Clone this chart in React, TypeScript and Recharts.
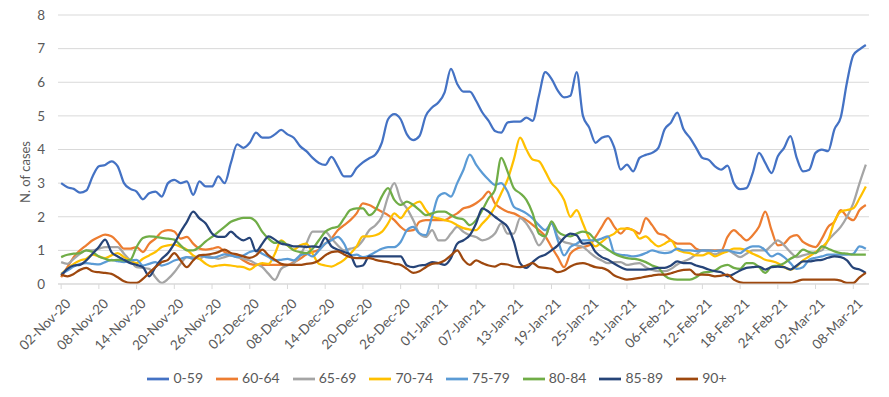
import React from "react";
import {
  LineChart,
  Line,
  XAxis,
  YAxis,
  CartesianGrid,
  Legend
} from "recharts";

// daily values, 02-Nov-20 .. 10-Mar-21
const age0059 = [
  3.0, 2.88, 2.83, 2.72, 2.78, 3.2, 3.5, 3.54, 3.65, 3.5,
  3.0, 2.83, 2.75, 2.52, 2.7, 2.75, 2.6, 3.0, 3.1, 3.0,
  3.05, 2.65, 3.05, 2.9, 2.9, 3.2, 3.0, 3.6, 4.15, 4.05,
  4.2, 4.5, 4.35, 4.35, 4.45, 4.58, 4.45, 4.35, 4.1, 3.95,
  3.75, 3.6, 3.54, 3.78, 3.5, 3.2, 3.2, 3.45, 3.62, 3.74,
  3.85, 4.2, 4.9, 5.05, 4.9, 4.45, 4.28, 4.4, 5.0, 5.25,
  5.4, 5.7, 6.4, 5.95, 5.72, 5.72, 5.45, 5.1, 4.85, 4.55,
  4.5, 4.8, 4.83, 4.83, 4.95, 4.85, 5.6, 6.3, 6.1, 5.75,
  5.55, 5.6, 6.3, 5.0, 4.65, 4.2, 4.35, 4.4, 4.05, 3.4,
  3.55, 3.35, 3.75, 3.84, 3.9, 4.05, 4.6, 4.8, 5.1, 4.6,
  4.35, 4.05, 3.75, 3.69, 3.5, 3.4, 3.52, 3.0, 2.82, 2.85,
  3.3, 3.9, 3.6, 3.3, 3.8, 4.05, 4.4, 3.75, 3.35, 3.4,
  3.9, 4.0, 3.95, 4.6, 4.95, 6.0, 6.8, 6.98, 7.11
];
const age6064 = [
  0.2, 0.5, 0.8, 1.0, 1.15, 1.3, 1.4, 1.47, 1.42, 1.25,
  1.05, 1.05, 1.1, 0.95, 1.2, 1.35, 1.55, 1.6, 1.56, 1.35,
  1.4, 1.2, 1.05, 1.02, 1.05, 1.1, 0.95, 0.85, 0.82, 0.7,
  0.6, 0.57, 0.57, 0.57, 0.57, 0.57, 0.57, 0.65, 0.75, 0.88,
  0.95, 1.02, 1.2, 1.35, 1.6, 1.75, 1.9, 2.1, 2.4, 2.35,
  2.25, 2.15, 2.05, 1.9, 1.7, 1.58, 1.6, 1.85, 1.9, 1.9,
  1.9, 1.9, 2.0, 2.1, 2.25, 2.3, 2.4, 2.55, 2.75, 2.4,
  2.25, 2.15, 2.1, 2.0, 1.9, 1.76, 1.6, 1.42, 1.1, 0.8,
  0.5, 0.9, 1.05, 1.1, 1.15, 1.4, 1.7, 1.96, 1.7, 1.5,
  1.66, 1.6, 1.5, 1.96, 1.75, 1.5, 1.45, 1.3, 1.2, 1.2,
  1.2, 1.05, 1.0, 1.0, 1.0, 1.0, 1.4, 1.6, 1.45, 1.3,
  1.45, 1.7, 2.15, 1.6, 1.15, 1.2, 1.4, 1.45, 1.25, 1.15,
  1.1, 1.35, 1.7, 1.85, 2.2, 2.0, 1.9, 2.2, 2.35
];
const age6569 = [
  0.65, 0.6, 0.75, 0.9, 1.0, 1.0, 1.05, 1.1, 1.1, 1.1,
  0.9, 0.7, 0.5, 0.48, 0.45, 0.2, 0.03, 0.15, 0.35, 0.6,
  0.8, 0.8, 0.75, 0.85, 0.8, 0.75, 0.8, 0.85, 0.8, 0.75,
  0.7, 0.6, 0.5, 0.3, 0.12, 0.45, 0.55, 0.62, 0.85, 1.2,
  1.56, 1.56, 1.56, 1.35, 1.15, 1.0, 1.05, 1.1, 1.3, 1.6,
  1.75, 2.0, 2.6, 3.0, 2.5, 2.25, 1.9, 1.5, 1.4, 1.6,
  1.3, 1.3, 1.5, 1.7, 1.55, 1.45, 1.4, 1.3, 1.35, 1.5,
  1.8, 1.5, 1.5, 1.96, 1.8, 1.5, 1.15, 1.4, 1.8, 1.4,
  1.25, 1.2, 1.15, 1.1, 0.95, 0.8, 0.7, 0.62, 0.65, 0.65,
  0.57, 0.6, 0.62, 0.5, 0.42, 0.38, 0.38, 0.45, 0.58, 0.67,
  0.75, 0.88, 1.0, 0.95, 0.88, 0.95, 1.0, 0.9, 0.8, 0.9,
  1.0, 1.0, 1.0, 1.15, 1.3, 1.15, 0.95, 0.8, 0.85, 0.9,
  0.95, 1.0, 1.3, 1.5, 1.7, 2.0, 2.4, 3.0, 3.55
];
const age7074 = [
  0.3, 0.45, 0.6, 0.7, 0.75, 0.87, 0.82, 0.77, 0.85, 0.92,
  0.8, 0.7, 0.62, 0.75, 0.85, 0.95, 1.1, 1.15, 1.17, 1.1,
  1.02, 0.85, 0.75, 0.6, 0.52, 0.55, 0.57, 0.55, 0.52, 0.5,
  0.43, 0.55, 0.62, 0.6, 0.9, 1.3, 1.15, 1.02, 1.15, 1.2,
  0.9, 0.6, 0.55, 0.52, 0.6, 0.72, 0.9, 1.12, 1.42, 1.42,
  1.45, 1.55, 1.8, 2.1, 1.96, 2.2, 2.36, 2.45, 2.2, 2.0,
  1.95, 1.9, 1.85, 1.75, 1.66, 1.62, 1.6, 1.8, 2.0, 2.3,
  2.7, 3.1, 3.7, 4.35, 4.0, 3.7, 3.65, 3.35, 3.0, 2.8,
  2.5, 2.0, 2.2, 1.8, 1.35, 1.12, 1.25, 1.4, 1.5, 1.65,
  1.65, 1.6, 1.35, 1.42, 1.25, 1.12, 1.2, 1.3, 1.02, 0.95,
  0.92, 0.85, 0.85, 0.92, 0.82, 0.9, 0.97, 1.05, 1.05, 1.0,
  0.9, 0.82, 0.72, 0.68, 0.62, 0.5, 0.43, 0.52, 0.7, 0.82,
  0.95, 1.1, 1.3, 1.86, 2.15, 2.2, 2.25, 2.55, 2.9
];
const age7579 = [
  0.3, 0.4, 0.52, 0.6, 0.62, 0.6, 0.58, 0.65, 0.72, 0.68,
  0.65, 0.7, 0.72, 0.55, 0.6, 0.65, 0.55, 0.6, 0.7, 0.75,
  0.8, 0.75, 0.85, 0.8, 0.78, 0.82, 0.88, 0.85, 0.8, 0.85,
  0.95, 1.0, 0.9, 0.8, 0.7, 0.72, 0.75, 0.7, 0.85, 0.9,
  0.82, 1.0, 1.2, 1.3, 1.4, 1.2, 0.85, 0.87, 0.8, 0.85,
  0.95, 1.05, 1.1, 1.1, 1.25, 1.6, 1.7, 1.5, 1.45, 2.0,
  2.6, 2.7, 2.6, 3.0, 3.4, 3.85, 3.55, 3.3, 3.1, 2.95,
  3.0, 2.75, 2.3, 2.2, 2.1, 1.95, 1.75, 1.6, 1.8, 1.3,
  0.85, 1.1, 1.2, 1.3, 1.3, 1.3, 1.35, 1.42, 0.92, 0.87,
  0.85, 0.82, 0.85, 0.92, 1.0, 0.95, 0.92, 0.95, 1.05, 1.0,
  1.0, 0.98, 1.0, 1.0, 0.98, 1.0, 1.0, 0.95, 0.92, 1.05,
  1.12, 1.12, 1.0, 0.82, 0.9, 0.8, 0.62, 0.45, 0.5, 0.72,
  0.78, 0.82, 0.87, 0.87, 0.87, 0.87, 0.9, 1.12, 1.05
];
const age8084 = [
  0.8, 0.87, 0.9, 0.92, 1.0, 0.95, 0.82, 0.75, 0.7, 0.72,
  0.7, 0.72, 1.1, 1.37, 1.42, 1.4, 1.37, 1.35, 1.32, 1.15,
  1.0, 1.0, 1.1, 1.27, 1.4, 1.55, 1.7, 1.85, 1.92, 1.97,
  1.97, 1.85, 1.55, 1.35, 1.22, 1.27, 1.15, 1.0, 0.95, 0.92,
  1.05, 1.3, 1.55, 1.66, 1.7, 1.95, 2.2, 2.25, 2.25, 2.05,
  2.2, 2.6, 2.85, 2.5, 2.35, 2.45, 2.35, 2.2, 2.05, 2.1,
  2.15, 2.15, 2.05, 1.96, 1.92, 1.75, 1.9, 2.2, 2.55, 2.8,
  3.75, 3.35, 2.85, 2.7, 2.5, 2.1, 1.5, 1.42, 1.86, 1.56,
  1.45, 1.42, 1.5, 1.56, 1.5, 1.3, 1.15, 1.02, 0.9, 0.82,
  0.77, 0.75, 0.72, 0.65, 0.55, 0.48, 0.25, 0.15, 0.13, 0.13,
  0.13, 0.2, 0.33, 0.36, 0.4, 0.52, 0.57, 0.48, 0.45, 0.62,
  0.62, 0.5, 0.33, 0.52, 0.55, 0.62, 0.75, 0.85, 1.02, 0.95,
  0.92, 1.12, 1.05, 0.97, 0.92, 0.9, 0.87, 0.87, 0.87
];
const age8589 = [
  0.25, 0.45, 0.55, 0.57, 0.7, 0.9, 1.1, 1.32, 0.95, 0.82,
  0.72, 0.62, 0.57, 0.5, 0.23, 0.5, 0.75, 0.92, 1.2, 1.55,
  1.85, 2.15, 1.95, 1.8, 1.5, 1.4, 1.4, 1.56, 1.4, 1.3,
  1.37, 0.97, 1.2, 1.42, 1.32, 1.2, 1.17, 1.12, 1.12, 1.1,
  1.12, 1.1, 1.37, 1.12, 1.02, 0.95, 0.87, 0.52, 0.55, 0.82,
  0.82, 0.82, 0.82, 0.82, 0.82, 0.55, 0.5, 0.55, 0.57, 0.65,
  0.62, 0.57, 0.77, 1.2, 1.3, 1.45, 1.8, 2.25, 2.15, 2.0,
  1.86, 1.7, 1.27, 0.62, 0.48, 0.65, 0.8, 0.87, 1.0, 1.15,
  1.37, 1.5, 1.45, 1.2, 1.22, 0.95, 0.8, 0.72, 0.6, 0.5,
  0.43, 0.43, 0.43, 0.43, 0.45, 0.48, 0.48, 0.55, 0.67, 0.62,
  0.62, 0.55, 0.5, 0.43, 0.38, 0.35, 0.23, 0.3, 0.4, 0.48,
  0.5, 0.52, 0.43, 0.5, 0.52, 0.5, 0.43, 0.55, 0.67, 0.67,
  0.7, 0.72, 0.78, 0.82, 0.8, 0.7, 0.48, 0.43, 0.33
];
const age90plus = [
  0.28, 0.23, 0.3, 0.42, 0.48, 0.38, 0.35, 0.33, 0.3, 0.2,
  0.08, 0.03, 0.03, 0.15, 0.33, 0.5, 0.65, 0.72, 0.92, 0.7,
  0.5, 0.7, 0.85, 0.87, 0.9, 0.95, 1.02, 0.92, 0.88, 0.82,
  0.78, 0.85, 1.02, 0.85, 0.72, 0.6, 0.57, 0.57, 0.57, 0.6,
  0.62, 0.7, 0.85, 0.95, 0.97, 0.88, 0.8, 0.77, 0.77, 0.77,
  0.72, 0.68, 0.65, 0.6, 0.57, 0.45, 0.33, 0.38, 0.5, 0.6,
  0.62, 0.7, 0.85, 1.0, 0.72, 0.57, 0.7, 0.62, 0.55, 0.52,
  0.6, 0.58, 0.52, 0.5, 0.55, 0.62, 0.5, 0.48, 0.45, 0.35,
  0.4, 0.52, 0.6, 0.62, 0.57, 0.5, 0.48, 0.4, 0.25, 0.18,
  0.13, 0.15, 0.18, 0.22, 0.25, 0.28, 0.28, 0.32, 0.38, 0.42,
  0.43, 0.28, 0.28, 0.27, 0.23, 0.25, 0.28, 0.13, 0.05, 0.03,
  0.03, 0.03, 0.03, 0.03, 0.03, 0.03, 0.03, 0.08, 0.13, 0.13,
  0.13, 0.13, 0.13, 0.13, 0.1, 0.03, 0.03, 0.2, 0.33
];

const dateLabels = [
  "02-Nov-20", "08-Nov-20", "14-Nov-20", "20-Nov-20", "26-Nov-20",
  "02-Dec-20", "08-Dec-20", "14-Dec-20", "20-Dec-20", "26-Dec-20",
  "01-Jan-21", "07-Jan-21", "13-Jan-21", "19-Jan-21", "25-Jan-21",
  "31-Jan-21", "06-Feb-21", "12-Feb-21", "18-Feb-21", "24-Feb-21",
  "02-Mar-21", "08-Mar-21"
];
const yTicks = [0, 1, 2, 3, 4, 5, 6, 7, 8];

const seriesList = [
  { name: "0-59", values: age0059, color: "#4472C4" },
  { name: "60-64", values: age6064, color: "#ED7D31" },
  { name: "65-69", values: age6569, color: "#A5A5A5" },
  { name: "70-74", values: age7074, color: "#FFC000" },
  { name: "75-79", values: age7579, color: "#5B9BD5" },
  { name: "80-84", values: age8084, color: "#70AD47" },
  { name: "85-89", values: age8589, color: "#264478" },
  { name: "90+", values: age90plus, color: "#9E480E" }
];

const data = age0059.map((_, i) => {
  const row: Record<string, number> = { day: i };
  seriesList.forEach((s) => {
    row[s.name] = s.values[i];
  });
  return row;
});

const xTicks = dateLabels.map((_, i) => i * 6);

const DateTick = (props: any) => {
  const { x, y, payload } = props;
  const label = dateLabels[Math.round(payload.value / 6)];
  const tx = x + 7;
  const ty = y + 10;
  return (
    <text
      x={tx}
      y={ty}
      dy="0.35em"
      textAnchor="end"
      transform={`rotate(-45, ${tx}, ${ty})`}
      fill="#595959"
      fontSize={13.5}
    >
      {label}
    </text>
  );
};

export default function App() {
  return (
    <div
      style={{
        position: "absolute",
        left: 0,
        top: 0,
        width: 889,
        height: 397,
        background: "#fff",
        fontFamily: "Lato, 'Open Sans', sans-serif"
      }}
    >
      <LineChart
        width={889}
        height={397}
        data={data}
        margin={{ top: 15, right: 20, bottom: 0, left: 18 }}
      >
        <CartesianGrid vertical={false} stroke="#D9D9D9" strokeWidth={1} />
        <XAxis
          dataKey="day"
          type="number"
          domain={[-0.5, 128.5]}
          ticks={xTicks}
          interval={0}
          height={83}
          stroke="#D9D9D9"
          tickSize={5}
          tick={<DateTick />}
        />
        <YAxis
          domain={[0, 8]}
          ticks={yTicks}
          interval={0}
          width={40}
          axisLine={false}
          tickLine={false}
          tickMargin={7}
          tick={{ fill: "#595959", fontSize: 13.5 }}
          label={{
            content: () => (
              <text
                x={30}
                y={172}
                transform="rotate(-90, 30, 172)"
                textAnchor="middle"
                fill="#595959"
                fontSize={13}
              >
                N. of cases
              </text>
            )
          }}
        />
        <Legend
          verticalAlign="bottom"
          height={30}
          iconType="plainline"
          iconSize={22}
          formatter={(value: string) => (
            <span style={{ color: "#595959", fontSize: 14, marginRight: 3 }}>
              {value}
            </span>
          )}
        />
        {seriesList.map((s) => (
          <Line
            key={s.name}
            dataKey={s.name}
            name={s.name}
            stroke={s.color}
            strokeWidth={2.25}
            type="monotone"
            dot={false}
            isAnimationActive={false}
          />
        ))}
      </LineChart>
    </div>
  );
}
